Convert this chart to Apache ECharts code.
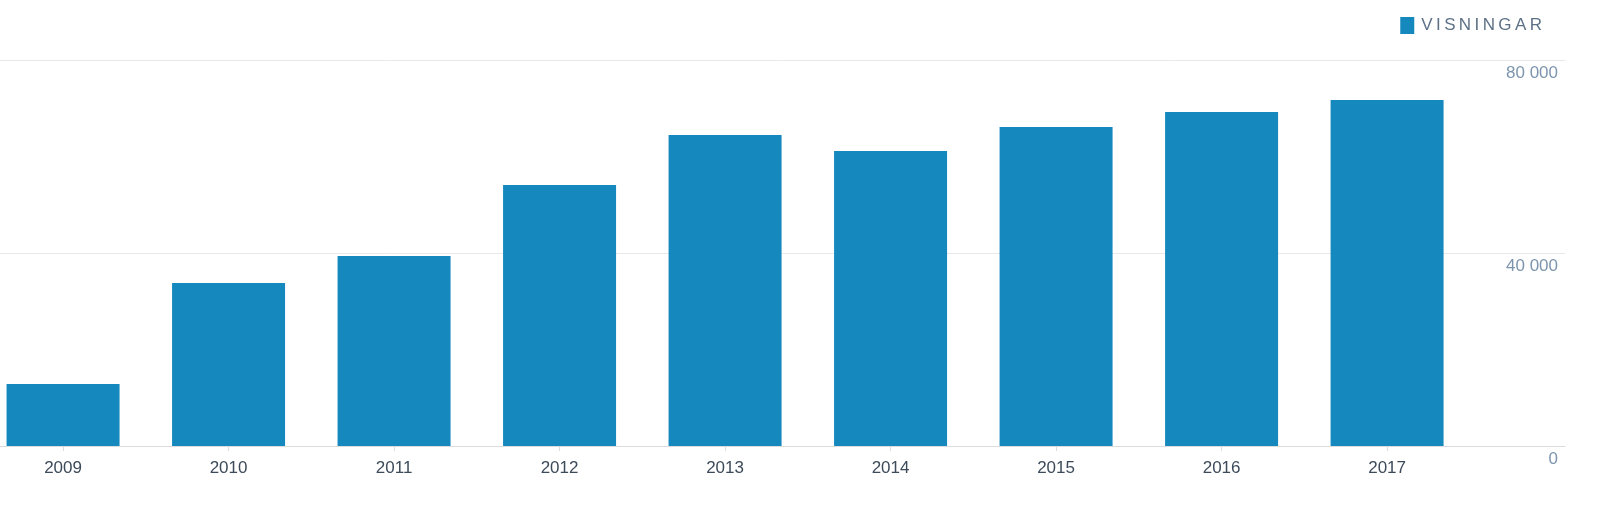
<!DOCTYPE html>
<html><head><meta charset="utf-8">
<script src="https://cdn.jsdelivr.net/npm/echarts@6/dist/echarts.min.js"></script>
<style>html,body{margin:0;padding:0;background:#fff}#c{width:1613px;height:506px}</style>
</head><body><div id="c"></div>
<script>
const categories = ['2009','2010','2011','2012','2013','2014','2015','2016','2017'];
const visningar = [12850, 33780, 39380, 54090, 64460, 61140, 66110, 69220, 71710];
const yTicks = [0, 40000, 80000];
const fmt = v => String(v).replace(/\B(?=(\d{3})+(?!\d))/g, ' ');
const idx = categories.map((c, i) => i);
const chart = echarts.init(document.getElementById('c'));
chart.setOption({
  animation: false,
  legend: {
    right: 66, top: 12, itemWidth: 14, itemHeight: 17, icon: 'rect', itemGap: 8,
    textStyle: { color: '#5d7186', fontSize: 17, fontFamily: 'Helvetica, Arial, sans-serif', padding: [0,0,0,2] },
    formatter: n => n.split('').join('\u2009'),
    data: ['VISNINGAR']
  },
  grid: { left: 0, right: 48, top: 60, bottom: 60 },
  xAxis: {
    type: 'value', min: -0.381, max: 9.075,
    splitLine: { show: false },
    axisLine: { show: true, lineStyle: { color: '#dcdcde' } },
    axisTick: { show: true, customValues: idx, length: 5, lineStyle: { color: '#dcdcde' } },
    axisLabel: { customValues: idx, formatter: v => categories[Math.round(v)] || '',
      color: '#3c4a5a', fontSize: 17, margin: 14, fontFamily: 'Helvetica, Arial, sans-serif' }
  },
  yAxis: {
    type: 'value', min: 0, max: 80000, interval: 40000, position: 'right',
    axisLine: { show: false }, axisTick: { show: false },
    splitLine: { lineStyle: { color: '#e6e8ea' } },
    axisLabel: { inside: true, margin: 7, verticalAlign: 'top', padding: [5,0,0,0], color: '#7c95ad', fontSize: 17,
      fontFamily: 'Helvetica, Arial, sans-serif', formatter: v => yTicks.includes(v) ? fmt(v) : '' }
  },
  series: [{
    name: 'VISNINGAR', type: 'bar',
    data: visningar.map((v, i) => [i, v]), barWidth: 113, itemStyle: { color: '#1588be' }
  }]
});
</script></body></html>
